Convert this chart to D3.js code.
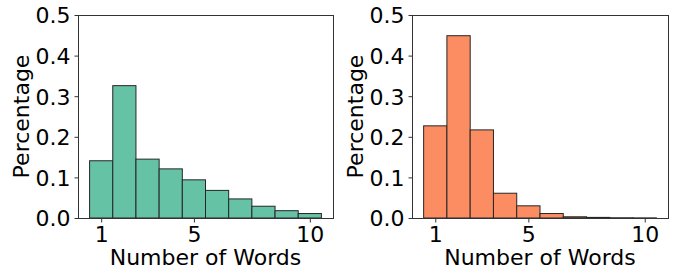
<!DOCTYPE html>
<html>
<head>
<meta charset="utf-8">
<script src="https://cdn.jsdelivr.net/npm/d3@7"></script>
<style>
html,body{margin:0;padding:0;background:#fff;}
svg{display:block;}
text{font-family:"DejaVu Sans",sans-serif;fill:#000;}
</style>
</head>
<body>
<svg id="chart" width="675" height="271"></svg>
<script>
// Data
const wordCounts = [1, 2, 3, 4, 5, 6, 7, 8, 9, 10];
const leftValues = [0.141, 0.326, 0.145, 0.121, 0.094, 0.068, 0.047, 0.029, 0.018, 0.011];
const rightValues = [0.227, 0.449, 0.217, 0.061, 0.030, 0.011, 0.003, 0.0015, 0.0006, 0.0003];
const xTicks = [1, 5, 10];
const yTicks = [0.0, 0.1, 0.2, 0.3, 0.4, 0.5];
const xLabel = "Number of Words";
const yLabel = "Percentage";

(function () {
const panels = [
  {values: leftValues, color: "#66c2a5", left: 78, right: 333, ylabX: 29},
  {values: rightValues, color: "#fc8d62", left: 412, right: 668, ylabX: 363}
];
const plotTop = 15, plotBottom = 218;
const fs = 22;

const svg = d3.select("#chart");

panels.forEach(p => {
  const x = d3.scaleLinear().domain([0, 11]).range([p.left, p.right]);
  const y = d3.scaleLinear().domain([0, 0.5]).range([plotBottom, plotTop]);
  const g = svg.append("g");

  // bars
  g.selectAll("rect.bar").data(wordCounts).enter().append("rect")
    .attr("class", "bar")
    .attr("x", d => x(d - 0.5))
    .attr("width", d => x(d + 0.5) - x(d - 0.5))
    .attr("y", (d, i) => y(p.values[i]))
    .attr("height", (d, i) => y(0) - y(p.values[i]))
    .attr("fill", p.color)
    .attr("stroke", "#262626")
    .attr("stroke-width", 1);

  // frame
  g.append("rect")
    .attr("x", p.left + 0.5).attr("y", plotTop + 0.5)
    .attr("width", p.right - p.left).attr("height", plotBottom - plotTop)
    .attr("fill", "none").attr("stroke", "#333").attr("stroke-width", 1);

  // x axis
  const xa = g.append("g").attr("transform", `translate(0,${plotBottom + 0.5})`)
    .call(d3.axisBottom(x).tickValues(xTicks).tickSize(4).tickPadding(4).tickFormat(d3.format("d")));
  xa.select(".domain").remove();
  xa.selectAll("line").attr("stroke", "#333");
  xa.selectAll("text").attr("font-size", fs).attr("font-family", "DejaVu Sans").attr("fill", "#000").attr("dy", "0.71em");

  // y axis
  const ya = g.append("g").attr("transform", `translate(${p.left + 0.5},0)`)
    .call(d3.axisLeft(y).tickValues(yTicks).tickSize(4).tickPadding(4).tickFormat(d3.format(".1f")));
  ya.select(".domain").remove();
  ya.selectAll("line").attr("stroke", "#333");
  ya.selectAll("text").attr("font-size", fs).attr("font-family", "DejaVu Sans").attr("fill", "#000").attr("dy", "0.36em");

  // labels
  g.append("text")
    .attr("x", (p.left + p.right) / 2).attr("y", 265)
    .attr("text-anchor", "middle").attr("font-size", fs)
    .text(xLabel);
  g.append("text")
    .attr("transform", `translate(${p.ylabX},${(plotTop + plotBottom) / 2}) rotate(-90)`)
    .attr("text-anchor", "middle").attr("font-size", fs)
    .text(yLabel);
});
})();
</script>
</body>
</html>
